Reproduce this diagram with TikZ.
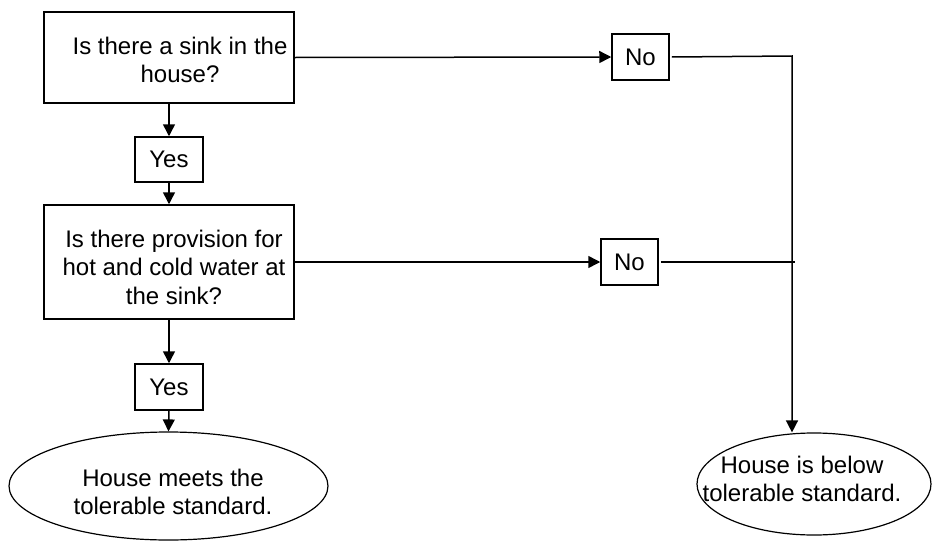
\documentclass[tikz,border=0pt]{standalone}
\usepackage{fontspec}
\setmainfont{Liberation Sans}
\usetikzlibrary{arrows.meta,shapes.geometric}
\begin{document}
\begin{tikzpicture}[x=1pt,y=-1pt,
  box/.style={draw,line width=1.5pt,inner sep=0pt},
  txt/.style={inner sep=0pt,align=center,font=\fontsize{24}{28.5}\selectfont},
  ell/.style={draw,ellipse,line width=1.2pt,inner sep=0pt},
  tip/.style={-{Triangle[length=12pt,width=12pt]}},
  arr/.style={line width=1.5pt,tip},
  ln/.style={line width=1.5pt},
  thin/.style={line width=1.1pt}]
\useasboundingbox (0,0) rectangle (932,541);
% shapes
\node[box,minimum width=250pt,minimum height=91pt] (b1) at (169,57.5) {};
\node[txt] (t1) at (180,60) {Is there a sink in the\\house?};
\node[box,txt,minimum width=68pt,minimum height=45pt] (y1) at (169,159.5) {Yes};
\node[box,minimum width=250pt,minimum height=114pt] (b2) at (169,262) {};
\node[txt] (t2) at (174,267) {Is there provision for\\hot and cold water at\\the sink?};
\node[box,txt,minimum width=68pt,minimum height=46pt] (y2) at (169,387) {Yes};
\node[ell,minimum width=319pt,minimum height=108pt] (e1) at (168.5,486) {};
\node[txt] (t3) at (173,492) {House meets the\\tolerable standard.};
\node[box,txt,minimum width=57pt,minimum height=46pt] (n1) at (640.5,57) {No};
\node[box,txt,minimum width=57pt,minimum height=46pt] (n2) at (629.5,262) {No};
\node[ell,minimum width=234pt,minimum height=102pt] (e2) at (814,484) {};
\node[txt] (t4) at (802,479) {House is below\\tolerable standard.};
\coordinate (c1) at (792,56);
\coordinate (c2) at (795,262);
% connectors
\draw[arr] (b1.south) -- (y1.north);
\draw[arr] (y1.south) -- (b2.north);
\draw[arr] (b2.south) -- (y2.north);
\draw[arr] (y2.south) -- (e1.north);
\draw[arr] (b1.east) -- (n1.west);
\draw[arr] (b2.east) -- (n2.west);
\draw[arr] ([xshift=2pt]n1.east) -- (c1) -- (c1 |- e2.north);
\draw[thin] ([xshift=2pt]n2.east) -- (c2);
\end{tikzpicture}
\end{document}
